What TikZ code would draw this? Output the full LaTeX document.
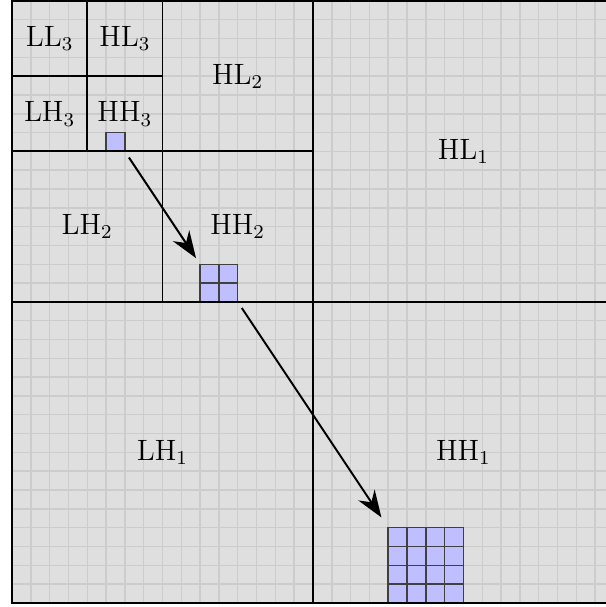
\documentclass[tikz,border=0pt]{standalone}
\usetikzlibrary{arrows.meta,calc}
\begin{document}
\begin{tikzpicture}[x=0.27cm,y=0.27cm,
  frame/.style={line width=0.8pt, black},
  gridline/.style={gray!40, line width=0.6pt},
  cellbox/.style={draw=black!75, fill=blue!25, line width=0.6pt, inner sep=0pt, outer sep=0pt},
  cellline/.style={draw=black!75, line width=0.6pt},
  band/.style={inner sep=1pt, font=\large},
  flow/.style={-{Stealth[length=11pt,width=8pt]}, line width=0.8pt, shorten <=3pt}]
\useasboundingbox (-0.638,-0.22) rectangle (31.53,32.05);
\fill[gray!25] (0,0) rectangle (32,32);
\foreach \i in {1,...,31} {
  \draw[gridline] (\i,0) -- (\i,32);
  \draw[gridline] (0,\i) -- (32,\i);
}
% blue coefficient blocks
\node[cellbox, minimum size=0.27cm] (s3) at (5.5,24.5) {};
\node[cellbox, minimum size=0.54cm] (s2) at (11,17) {};
\draw[cellline] (s2.north) -- (s2.south) (s2.west) -- (s2.east);
\node[cellbox, minimum size=1.08cm] (s1) at (22,2) {};
\foreach \k in {1,2,3} {
  \draw[cellline] ($(s1.south west)+(\k,0)$) -- ($(s1.north west)+(\k,0)$);
  \draw[cellline] ($(s1.south west)+(0,\k)$) -- ($(s1.south east)+(0,\k)$);
}
% subband frames
\draw[frame] (0,0) rectangle (32,32);
\draw[frame] (16,0) -- (16,32);
\draw[frame] (0,16) -- (32,16);
\draw[frame] (8,16) -- (8,32);
\draw[frame] (0,24) -- (16,24);
\draw[frame] (4,24) -- (4,32);
\draw[frame] (0,28) -- (8,28);
% labels
\node[band] (ll3) at (2,30) {$\mathrm{LL}_3$};
\node[band] (hl3) at (6,30) {$\mathrm{HL}_3$};
\node[band] (lh3) at (2,26) {$\mathrm{LH}_3$};
\node[band] (hh3) at (6,26) {$\mathrm{HH}_3$};
\node[band] (hl2) at (12,28) {$\mathrm{HL}_2$};
\node[band] (lh2) at (4,20) {$\mathrm{LH}_2$};
\node[band] (hh2) at (12,20) {$\mathrm{HH}_2$};
\node[band] (hl1) at (24,24) {$\mathrm{HL}_1$};
\node[band] (lh1) at (8,8) {$\mathrm{LH}_1$};
\node[band] (hh1) at (24,8) {$\mathrm{HH}_1$};
% arrows
\draw[flow, shorten >=3pt] (s3.south east) -- (s2.north west);
\draw[flow, shorten >=5pt] (s2.south east) -- (s1.north west);
\end{tikzpicture}
\end{document}
